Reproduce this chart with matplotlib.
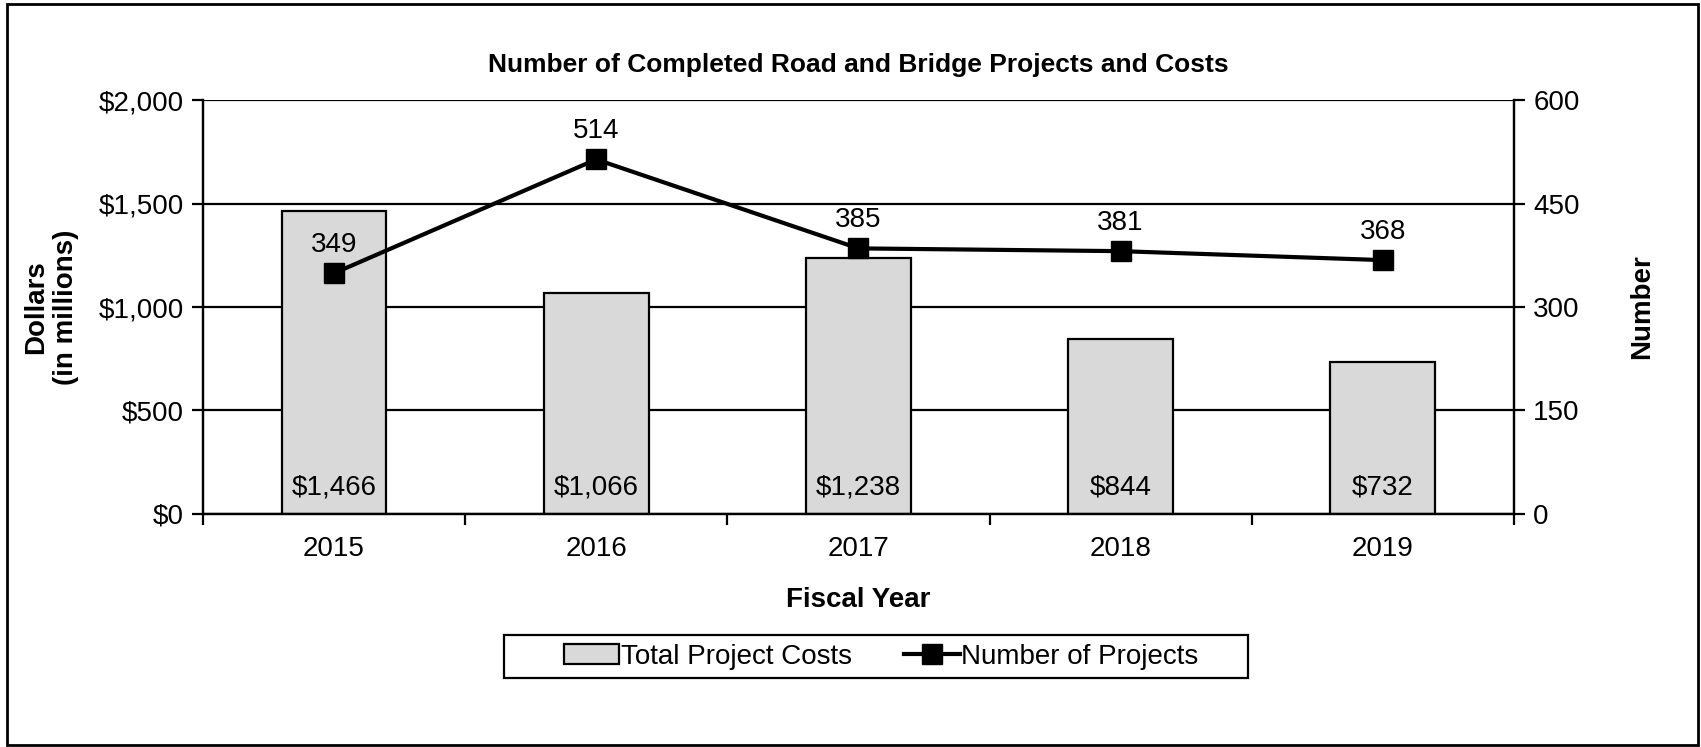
import numpy as np
from matplotlib import pyplot as plt
from matplotlib.patches import Rectangle

plt.rcParams['font.family'] = ['Liberation Sans', 'DejaVu Sans']

years = ['2015', '2016', '2017', '2018', '2019']
costs = [1466, 1066, 1238, 844, 732]
projects = [349, 514, 385, 381, 368]

FS = 20

fig = plt.figure(figsize=(17.01, 7.47), dpi=100)
ax = fig.add_axes([0.1193, 0.312, 0.7707, 0.554])
ax2 = ax.twinx()

x = np.arange(len(years))

# gridlines behind bars
for v in range(0, 2001, 500):
    ax.axhline(v, color='black', lw=1.6, zorder=0)

ax.bar(x, costs, width=0.40, color='#d9d9d9', edgecolor='black', lw=1.6, zorder=2,
       label='Total Project Costs')
for xi, c in zip(x, costs):
    ax.text(xi, 130, '${:,}'.format(c), ha='center', va='center', fontsize=FS, zorder=3)

ax.set_xlim(-0.5, 4.5)
ax.set_ylim(0, 2000)
ax.set_yticks(range(0, 2001, 500))
ax.set_yticklabels(['${:,}'.format(v) for v in range(0, 2001, 500)], fontsize=FS)
ax.set_xticks(x)
ax.set_xticklabels(years, fontsize=FS)
ax.set_xticks(np.arange(-0.5, 5, 1), minor=True)
ax.tick_params(axis='x', which='major', length=0, pad=16)
ax.tick_params(axis='x', which='minor', length=8, width=1.6, direction='out')
ax.tick_params(axis='y', length=8, width=1.6, direction='out', pad=6)

ax.set_xlabel('Fiscal Year', fontsize=FS, fontweight='bold', labelpad=18)
ax.set_ylabel('Dollars\n(in millions)', fontsize=FS, fontweight='bold')
ax.yaxis.set_label_coords(-0.0946, 0.5)
ax.set_title('Number of Completed Road and Bridge Projects and Costs',
             fontsize=19, fontweight='bold', pad=20)

ln, = ax2.plot(x, projects, color='black', lw=3, marker='s', ms=14,
               label='Number of Projects', zorder=4)
for xi, p in zip(x, projects):
    ax2.text(xi, p + 22, str(p), ha='center', va='bottom', fontsize=FS)
ax2.set_ylim(0, 600)
ax2.set_yticks(range(0, 601, 150))
ax2.tick_params(axis='y', length=8, width=1.6, direction='out', labelsize=FS, pad=6)
ax2.set_ylabel('Number', fontsize=FS, fontweight='bold', rotation=90)
ax2.yaxis.set_label_coords(1.0877, 0.5)

for a in (ax, ax2):
    a.spines['top'].set_visible(False)
    for s in ('left', 'right', 'bottom'):
        a.spines[s].set_linewidth(1.6)

h1, l1 = ax.get_legend_handles_labels()
h2, l2 = ax2.get_legend_handles_labels()
leg = fig.legend(h1 + h2, l1 + l2, loc='center', bbox_to_anchor=(0.518, 0.121),
                 ncol=2, fontsize=FS, frameon=False,
                 handlelength=2.0, handletextpad=0.05, columnspacing=1.9)

# legend frame
fig.patches.append(Rectangle((504 / 1701, 0.0924), (1248 - 504) / 1701, 0.0576,
                             transform=fig.transFigure, fill=False,
                             edgecolor='black', lw=1.6))
# outer border
fig.patches.append(Rectangle((0.004, 0.003), 0.994, 0.991, transform=fig.transFigure,
                             fill=False, edgecolor='black', lw=2))

fig.savefig('out.png', dpi=100)
